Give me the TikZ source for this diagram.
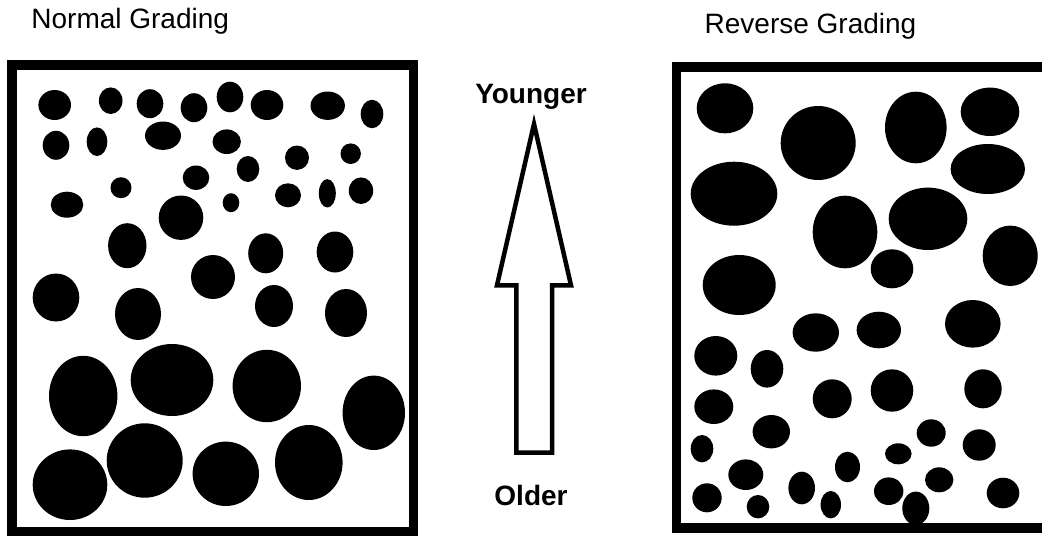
\documentclass[tikz,border=0pt]{standalone}
\usepackage{fontspec}
\setmainfont{Liberation Sans}

\begin{document}
\begin{tikzpicture}[
    x=1pt, y=-1pt,
    heading/.style={inner sep=0pt, font=\fontsize{28}{32}\selectfont},
    agetext/.style={inner sep=0pt, anchor=base, font=\fontsize{28}{32}\selectfont\bfseries},
    bed/.style={draw, line width=9.5pt},
    grain/.style={fill=black},
    pointer/.style={draw, line width=4.5pt, fill=white}
]
\useasboundingbox (0,0) rectangle (1042,536);

% titles
\node[heading, anchor=base west] (normal) at (31.2,28.3) {Normal Grading};
\node[heading, anchor=base west] (reverse) at (704.5,33.3) {Reverse Grading};

% normal grading: fine on top, coarse at the base
\foreach \cx/\cy/\rx/\ry in {
    54.7/105/16.3/15, 110.7/100.7/11.8/13.3, 150/103.7/13.3/14.5, 194/107.7/13.3/14.5,
    230/97/13.3/15.3, 267/105/16.3/15, 327.7/105.7/17.2/14.2, 372/114/11.3/14.2,
    56/145.3/13.3/14.5, 97/141.7/10.3/14.3, 163/135.7/18/14.2, 226.7/141.7/14.2/12.3,
    248/169/11.3/13, 297/157.7/12/12.2, 350.7/153.7/10.2/10.3,
    196/177.7/13.3/12.2, 121/187.7/10.5/10.5, 67/204.7/16.3/13, 231/202.7/8.3/9.5,
    288/195.3/13/12, 327.3/193.3/8.5/14.2, 361/190.7/12.2/13.3,
    181/217.7/22.3/22.2, 127.3/245.7/19.2/22.5, 265.7/253.3/17.5/20, 335/252/18.3/20.5,
    213/277/22/22, 56/297.5/23.3/24, 138/314/23/26, 274/306/19/21, 346/313/21/24,
    83.2/396/34.2/40.2, 172/380/41.3/36, 266.8/386/34.2/36.2, 373.8/412.8/31.2/37.2,
    70/484.7/37.3/35.3, 144.7/460.5/38/37.2, 225.8/473.8/33.2/32.2, 308.8/462.5/33.8/37.5}
  \fill[grain] (\cx,\cy) ellipse [x radius=\rx, y radius=\ry];
\draw[bed] (12,65) rectangle (413.5,531.5);

% reverse grading: coarse on top, fine at the base
\foreach \cx/\cy/\rx/\ry in {
    725/108.3/28.3/25, 818.2/143/37.5/37, 915.8/127.5/30.8/35.8, 990/111.8/29.3/24.2,
    987.8/169/37.2/25, 734/193.7/43.3/32, 845/232/32.3/36.3, 928/218.8/39.3/31.2,
    892/268.8/21.3/19.5, 1010.2/255.8/27.5/30.2, 739.2/285/36.5/30,
    815.8/332.5/23.2/19.2, 878.8/330/22.2/18.3, 972.8/323.8/27.8/23.8,
    715.8/355.8/21.5/19.8, 767/368.8/16.3/18.8, 713.8/406.7/19.5/17.3,
    832.2/398.8/19.5/19.5, 892/390.5/21.3/21.2, 983/388.8/18.7/19.5,
    771.3/431.7/18.7/16.7, 702/448.7/11.3/13.7, 931.2/433/14.5/13.7, 979.2/445/16.5/15.7,
    898.3/453.8/13.3/10.5, 847.5/467/12.5/15.3, 745.8/474.7/17.5/15.3, 939.2/479.8/14.2/12.5,
    707/497.8/14.7/14.5, 801.7/488/13.3/16.3, 888.7/491.2/14.7/13.8, 1003/493/16.3/15.3,
    758/506.7/11.3/11.7, 830.8/504.7/10.2/13.7, 915.8/508.3/13.5/16.7}
  \fill[grain] (\cx,\cy) ellipse [x radius=\rx, y radius=\ry];
\draw[bed] (676.5,67) rectangle (1060,528);

% way up
\draw[pointer] (534,124) -- (571,285.3) -- (552,285.3) -- (552,452.5)
    -- (516.3,452.5) -- (516.3,285.3) -- (497,285.3) -- cycle;
\node[agetext] (younger) at (531,103.3) {Younger};
\node[agetext] (older) at (531,505) {Older};
\end{tikzpicture}
\end{document}
